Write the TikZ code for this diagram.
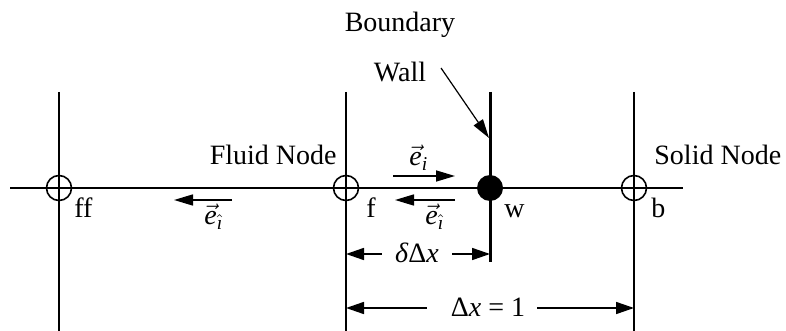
\documentclass[tikz,border=0pt]{standalone}
\usepackage{fontspec}
\usepackage{amsmath}
\setmainfont{Liberation Serif}
\usetikzlibrary{arrows.meta, positioning, calc}

\newcommand{\evec}{\vec{\textit{e}}}
\newcommand{\ihat}{\hat{\textit{\i}}}

\begin{document}
\begin{tikzpicture}[x=0.5pt, y=-0.5pt,
    grid/.style={line width=0.8pt},
    wallline/.style={line width=1.5pt},
    lattice/.style={circle, draw, line width=0.8pt, minimum size=12.5pt, inner sep=0pt},
    wallnode/.style={circle, fill, minimum size=13pt, inner sep=0pt},
    lbl/.style={font=\fontsize{14}{16}\selectfont, inner sep=0pt, anchor=base west},
    vel/.style={-{Triangle[length=9.5pt, width=5.5pt]}, line width=0.8pt},
    dim/.style={{Triangle[length=9pt, width=6pt]}-, line width=0.8pt},
]
    \useasboundingbox (0,0) rectangle (786,331);

    % Lattice lines
    \draw[grid] (10,188) coordinate (hl) -- (683,188) coordinate (hr);
    \foreach \name/\x in {ff/59, f/346, b/634} {
        \draw[grid] (\x,92) coordinate (\name-top) -- (\x,331) coordinate (\name-bot);
    }
    \draw[wallline] (490,92) coordinate (w-top) -- (490,262) coordinate (w-bot);

    % Nodes
    \node[lattice] (ff) at (59,188) {};
    \node[lattice] (f) at (346,188) {};
    \node[lattice] (b) at (634,188) {};
    \node[wallnode] (w) at (490,188) {};

    % Node labels
    \node[lbl] (ff-lbl) at (74,218) {ff};
    \node[lbl] (f-lbl) at (366,218) {f};
    \node[lbl] (w-lbl) at (504,218) {w};
    \node[lbl] (b-lbl) at (651,218) {b};
    \node[lbl, anchor=base east] (fluid) at (337,165) {Fluid Node};
    \node[lbl] (solid) at (654,165) {Solid Node};

    % Boundary and wall
    \node[lbl, anchor=base] (boundary) at (400,32) {Boundary};
    \node[lbl, anchor=base] (wall) at (400,82) {Wall};
    \coordinate (wall-tail) at (441,68);
    \coordinate (wall-tip) at (489,138);
    \draw[vel, line width=0.6pt] (wall-tail) -- (wall-tip);

    % Velocities
    \coordinate (ei-a) at (393,176);
    \coordinate (ei-b) at (455,176);
    \draw[vel] (ei-a) -- (ei-b);
    \node[lbl] (ei) at (409,166) {$\evec_{\textit{i}}$};

    \coordinate (ej-a) at (455,200);
    \coordinate (ej-b) at (395,200);
    \draw[vel] (ej-a) -- (ej-b);
    \node[lbl] (ej) at (425,225) {$\evec_{\ihat}$};

    \coordinate (ek-a) at (232,200);
    \coordinate (ek-b) at (174,200);
    \draw[vel] (ek-a) -- (ek-b);
    \node[lbl] (ek) at (204,225) {$\evec_{\ihat}$};

    % Dimensions
    \node[lbl, anchor=base] (delta) at (417,262) {\textit{δ}Δ\textit{x}};
    \coordinate (delta-l) at (382,254);
    \coordinate (delta-r) at (452,254);
    \draw[dim] (f |- delta-l) -- (delta-l);
    \draw[dim] (w-bot |- delta-r) -- (delta-r);

    \node[lbl, anchor=base] (dx) at (488,316) {Δ\textit{x} = 1};
    \coordinate (dx-l) at (427,308);
    \coordinate (dx-r) at (537,308);
    \draw[dim] (f |- dx-l) -- (dx-l);
    \draw[dim] (b |- dx-r) -- (dx-r);
\end{tikzpicture}
\end{document}
